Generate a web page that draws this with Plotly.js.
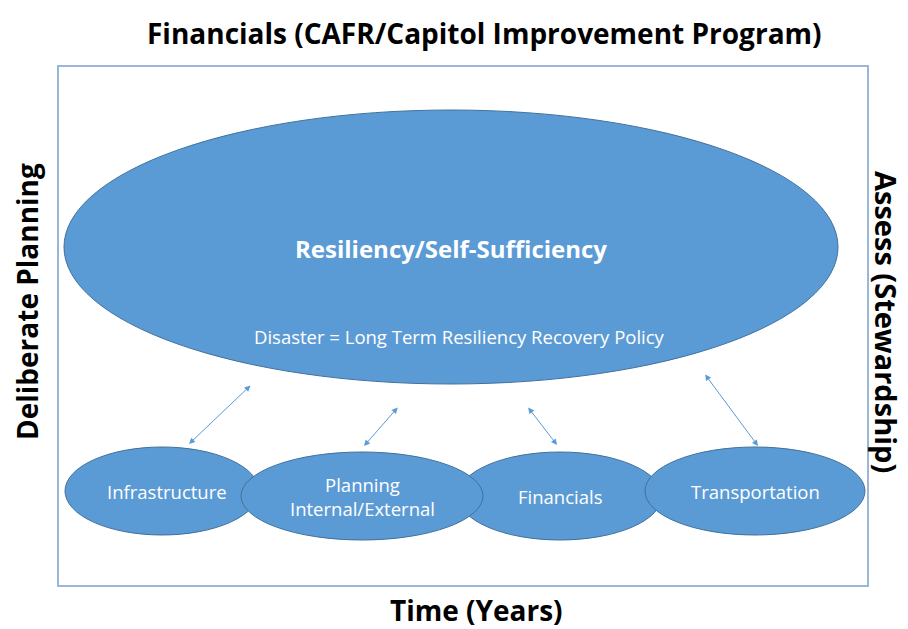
<!DOCTYPE html>
<html>
<head>
<meta charset="utf-8">
<script src="https://cdn.plot.ly/plotly-3.0.1.min.js"></script>
<style>html,body{margin:0;padding:0;background:#fff;}#chart{width:908px;height:629px;}</style>
</head>
<body>
<div id="chart"></div>
<script>
// Diagram content
const mainTitle = "Financials (CAFR/Capitol Improvement Program)";
const bottomLabel = "Time (Years)";
const leftLabel = "Deliberate Planning";
const rightLabel = "Assess (Stewardship)";
const coreLabel = "Resiliency/Self-Sufficiency";
const coreSubLabel = "Disaster = Long Term Resiliency Recovery Policy";

// Pillar nodes (drawn in this order)
const nodeNames = ["Infrastructure", "Financials", "Planning<br>Internal/External", "Transportation"];
const nodeCx = [162, 560, 362, 755];
const nodeCy = [491, 496, 496, 491];
const nodeRx = [97, 102, 121, 110];
const nodeRy = [44, 44, 44, 44];

// Core ellipse
const coreCx = 451, coreCy = 247, coreRx = 387, coreRy = 137;

// Linking arrows (core <-> pillar)
const arrowFromX = [252, 399, 527, 704];
const arrowFromY = [384, 406, 406, 373];
const arrowToX = [189, 364, 557, 758];
const arrowToY = [444, 446, 445, 446];

const fill = "#5b9bd5";
const edge = "#41719c";
const font = "Open Sans, Noto Sans, sans-serif";

const shapes = [];
shapes.push({type: "rect", xref: "x", yref: "y", x0: 58, x1: 868, y0: 66, y1: 586,
  line: {color: "#9bb7d6", width: 2}, fillcolor: "rgba(0,0,0,0)", layer: "below"});
shapes.push({type: "circle", xref: "x", yref: "y",
  x0: coreCx - coreRx, x1: coreCx + coreRx, y0: coreCy - coreRy, y1: coreCy + coreRy,
  fillcolor: fill, line: {color: edge, width: 1}});
for (let i = 0; i < nodeNames.length; i++) {
  shapes.push({type: "circle", xref: "x", yref: "y",
    x0: nodeCx[i] - nodeRx[i], x1: nodeCx[i] + nodeRx[i],
    y0: nodeCy[i] - nodeRy[i], y1: nodeCy[i] + nodeRy[i],
    fillcolor: fill, line: {color: edge, width: 1}});
}

const annotations = [];
annotations.push({text: "<b>" + mainTitle + "</b>", x: 484, y: 33, xref: "x", yref: "y",
  showarrow: false, font: {family: font, size: 28, color: "#000"}});
annotations.push({text: "<b>" + bottomLabel + "</b>", x: 476, y: 610, xref: "x", yref: "y",
  showarrow: false, font: {family: font, size: 28, color: "#000"}});
annotations.push({text: "<b>" + leftLabel + "</b>", x: 27, y: 302, xref: "x", yref: "y",
  showarrow: false, textangle: -90, font: {family: font, size: 28, color: "#000"}});
annotations.push({text: "<b>" + rightLabel + "</b>", x: 887, y: 322, xref: "x", yref: "y",
  showarrow: false, textangle: 90, font: {family: font, size: 29, color: "#000"}});
annotations.push({text: "<b>" + coreLabel + "</b>", x: 451, y: 248, xref: "x", yref: "y",
  showarrow: false, font: {family: font, size: 24, color: "#fff"}});
annotations.push({text: coreSubLabel, x: 459, y: 336, xref: "x", yref: "y",
  showarrow: false, font: {family: font, size: 18.5, color: "#fff"}});
for (let i = 0; i < nodeNames.length; i++) {
  annotations.push({text: nodeNames[i], x: nodeCx[i] + (i === 0 ? 5 : 0), y: nodeCy[i], xref: "x", yref: "y",
    showarrow: false, font: {family: font, size: 18.5, color: "#fff"}});
}
for (let i = 0; i < arrowFromX.length; i++) {
  annotations.push({x: arrowToX[i], y: arrowToY[i], ax: arrowFromX[i], ay: arrowFromY[i],
    xref: "x", yref: "y", axref: "x", ayref: "y", text: "", showarrow: true,
    arrowhead: 2, startarrowhead: 2, arrowside: "end+start", arrowsize: 1.2, startarrowsize: 1.2,
    arrowwidth: 1, arrowcolor: fill});
}

const layout = {
  width: 908, height: 629,
  margin: {l: 0, r: 0, t: 0, b: 0},
  paper_bgcolor: "#fff", plot_bgcolor: "#fff",
  xaxis: {range: [0, 908], visible: false, fixedrange: true},
  yaxis: {range: [629, 0], visible: false, fixedrange: true},
  shapes: shapes, annotations: annotations, showlegend: false
};
Plotly.newPlot("chart", [], layout, {displayModeBar: false, staticPlot: true});
</script>
</body>
</html>
